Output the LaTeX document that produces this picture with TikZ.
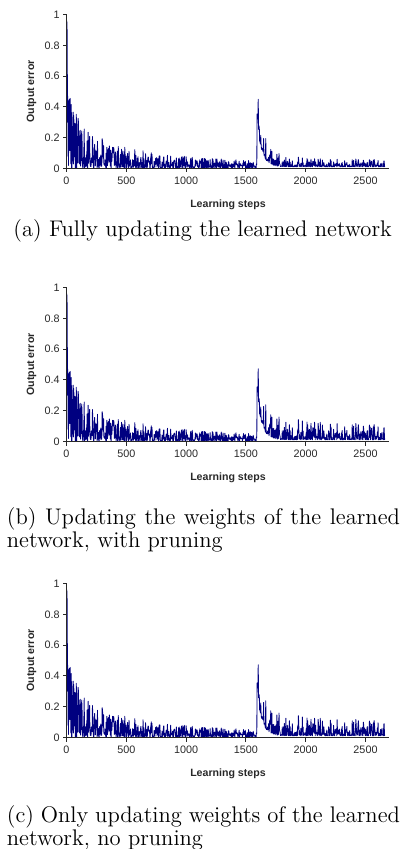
\documentclass[tikz,border=0pt]{standalone}
\usepackage{fontspec}
\newfontfamily\axfont{Liberation Sans}
\definecolor{navyline}{RGB}{0,0,128}
\definecolor{axgray}{RGB}{40,40,40}
\newcommand\panel[3]{%
\begin{scope}[shift={(66.5,#2)}, x=0.0598pt, y=77pt]
  \pgfmathsetseed{2718}
  \draw[data] (0,0.05) -- (1,0.96) -- (3,0.95) -- (5,0.9) -- (7,0.6) -- (9,0.3) -- (11,0.47) -- (13,0.08) -- (15,0.2) -- (17,0.02) -- (19,0.44)
    foreach \t in {22,25,...,2662} { -- (\t,{#3(\t)}) };
  \draw[axisline] (0,1) -- (0,0) -- (2700,0);
  \foreach \v/\l/\k in {0/0/0,0.2/0.2/1,0.4/0.4/2,0.6/0.6/3,0.8/0.8/4,1/1/5}
    \draw[axisline] (0,\v) -- ++(-2pt,0) node[ticklab,anchor=east,xshift=-1.2pt] (#1y\k) {\l};
  \foreach \v/\k in {0/0,500/1,1000/2,1500/3,2000/4,2500/5}
    \draw[axisline] (\v,0) -- ++(0,-2pt) node[ticklab,anchor=north,yshift=-2pt] (#1x\k) {\v};
  \path (1350,0) ++(0,-18pt) node[axlab] (#1xl) {Learning steps};
  \path (0,0.5) ++(-17.5pt,0) node[axlab,rotate=90] (#1yl) {Output error};
\end{scope}}
\begin{document}
\begin{tikzpicture}[x=0.5pt,y=-0.5pt,
  declare function={
    sq(\x)=\x*\x;
    cube(\x)=\x*\x*\x;
    ea(\t)=0.035+0.4*exp(-min(\t/35,12))+0.3*exp(-min(\t/380,12))+0.045*exp(-\t/1200);
    pre(\t)=(\t<1594);
    post(\t)=(\t>1593);
    sp(\t)=post(\t)*0.38*exp(-min(max(\t-1594,0)/40,12));
    pb(\t)=post(\t)*(0.1+0.1*exp(-min(max(\t-1594,0)/300,12)));
    pa(\t)=post(\t)*(0.05+0.13*exp(-min(max(\t-1594,0)/150,12)));
    yb(\t)=0.003+pre(\t)*ea(\t)*sq(rnd)+sp(\t)*(0.7+0.3*rnd)+pb(\t)*cube(rnd)+post(\t)*0.008;
    ya(\t)=0.003+pre(\t)*ea(\t)*sq(rnd)+sp(\t)*(0.7+0.3*rnd)+pa(\t)*cube(rnd)+post(\t)*0.008;
  },
  data/.style={draw=navyline, line width=0.42pt, line join=round},
  axisline/.style={draw=axgray, line width=0.5pt},
  ticklab/.style={font=\axfont\fontsize{5.4}{6}\selectfont, inner sep=0pt, text=axgray},
  axlab/.style={font=\axfont\bfseries\fontsize{5.3}{6}\selectfont, inner sep=0pt, text=axgray},
  capt/.style={font=\fontsize{11.3}{11.65}\selectfont, inner sep=0pt, text width=196.5pt, align=justify, anchor=north west}
]
\useasboundingbox (0,0) rectangle (403,849);
\panel{a}{168.5}{ya}
\panel{b}{441.5}{yb}
\panel{c}{737.5}{yb}
\node[font=\fontsize{11.3}{11.65}\selectfont, inner sep=0pt, anchor=base west] (capa) at (13,236.5) {(a) Fully updating the learned network};
\node[capt] (capb) at (6.5,507) {(b) Updating the weights of the learned network, with pruning};
\node[capt] (capc) at (6.5,805) {(c) Only updating weights of the learned network, no pruning};
\end{tikzpicture}
\end{document}
